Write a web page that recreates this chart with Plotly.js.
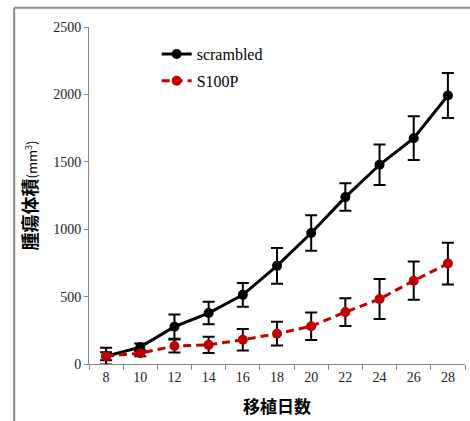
<!DOCTYPE html>
<html>
<head>
<meta charset="utf-8">
<script src="https://cdn.plot.ly/plotly-3.0.1.min.js"></script>
<style>body{margin:0;padding:0;background:#fff;} #chart{width:470px;height:421px;}</style>
</head>
<body>
<div id="chart"></div>
<script>
const days = ['8','10','12','14','16','18','20','22','24','26','28'];
const scrambled = [58, 125, 277, 378, 513, 728, 972, 1238, 1478, 1675, 1992];
const scrambledErr = [62, 28, 90, 84, 88, 132, 132, 102, 150, 162, 167];
const s100p = [58, 80, 134, 142, 180, 225, 280, 385, 482, 618, 745];
const s100pErr = [30, 22, 48, 60, 80, 88, 102, 103, 148, 142, 155];
const tickVals = [0, 500, 1000, 1500, 2000, 2500];

const serif = "Liberation Serif";
const cjk = "Noto Sans CJK JP";

const traces = [
  {
    x: days, y: scrambled, name: 'scrambled', type: 'scatter', mode: 'lines+markers',
    legendgroup: 'a',
    line: {color: '#000000', width: 3},
    marker: {color: '#000000', size: 10},
    error_y: {type: 'data', array: scrambledErr, visible: true, color: '#000000', thickness: 2, width: 6}
  },
  {
    x: days, y: s100p, name: 'S100P', type: 'scatter', mode: 'lines+markers',
    legendgroup: 'b',
    line: {color: '#C00000', width: 3, dash: '8px,5px'},
    marker: {color: '#C00000', size: 10},
    error_y: {type: 'data', array: s100pErr, visible: true, color: '#000000', thickness: 2, width: 6}
  }
];

const layout = {
  width: 470, height: 421,
  margin: {l: 89, r: 5, t: 27, b: 57},
  paper_bgcolor: '#ffffff', plot_bgcolor: '#ffffff',
  showlegend: true,
  legend: {
    x: 0.18, y: 0.97, xanchor: 'left', yanchor: 'top',
    bgcolor: 'rgba(0,0,0,0)',
    font: {family: serif, size: 16, color: '#000'},
    tracegroupgap: 3,
    itemwidth: 30
  },
  xaxis: {
    type: 'category',
    tickvals: days, ticktext: days,
    range: [-0.5, 10.5],
    tickson: 'boundaries',
    showgrid: false, zeroline: false,
    showline: true, linecolor: '#888888', linewidth: 1,
    ticks: 'outside', ticklen: 5, tickcolor: '#888888',
    tickfont: {family: serif, size: 14, color: '#222'},
    title: {text: '<b>移植日数</b>', font: {family: cjk, size: 17, color: '#000'}, standoff: 17}
  },
  yaxis: {
    range: [0, 2500],
    tickvals: tickVals, ticktext: tickVals.map(String),
    showgrid: false, zeroline: false,
    showline: true, linecolor: '#888888', linewidth: 1,
    ticks: 'outside', ticklen: 4, tickcolor: '#888888',
    tickfont: {family: serif, size: 14, color: '#222'},
    title: {text: '<b>腫瘍体積</b><span style="font-size:13px">(mm<sup>3</sup>)</span>', font: {family: cjk, size: 18, color: '#000'}, standoff: 10}
  },
  shapes: [
    {type: 'line', xref: 'paper', yref: 'paper', x0: -0.199, x1: 1.2, y0: 1.057, y1: 1.057, line: {color: '#8a8a8a', width: 2}},
    {type: 'line', xref: 'paper', yref: 'paper', x0: -0.199, x1: -0.199, y0: 1.057, y1: -0.3, line: {color: '#8a8a8a', width: 2}}
  ]
};

Plotly.newPlot('chart', traces, layout, {displayModeBar: false, staticPlot: true});
</script>
</body>
</html>
